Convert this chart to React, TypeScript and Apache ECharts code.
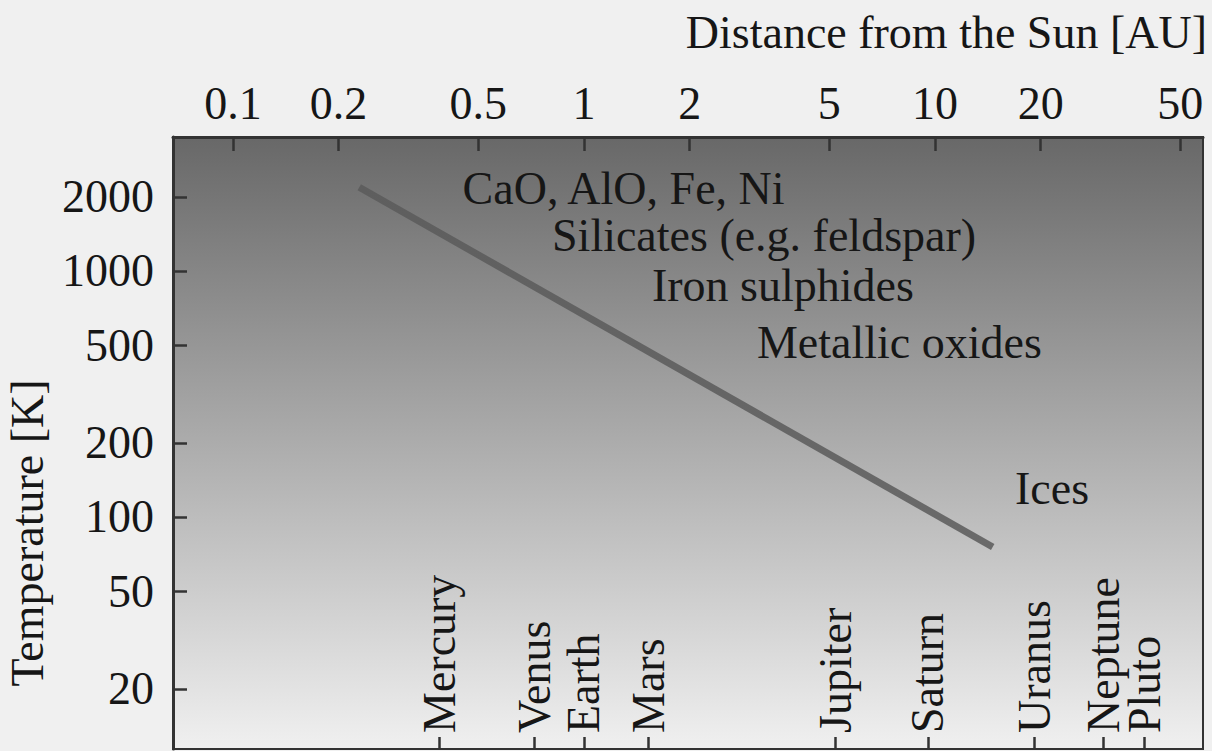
import React, { useEffect, useRef } from "react";
import * as echarts from "echarts";

// ---- data ----
const distanceTicks = [0.1, 0.2, 0.5, 1, 2, 5, 10, 20, 50];
const temperatureTicks = [20, 50, 100, 200, 500, 1000, 2000];
const planetNames = ["Mercury", "Venus", "Earth", "Mars", "Jupiter", "Saturn", "Uranus", "Neptune", "Pluto"];
const planetDistances = [0.387, 0.723, 1.0, 1.524, 5.2, 9.54, 19.2, 30.1, 39.5];
const condensationAU = [0.229, 14.6];
const condensationK = [2190, 75.5];
const regionLabels = ["CaO, AlO, Fe, Ni", "Silicates (e.g. feldspar)", "Iron sulphides", "Metallic oxides", "Ices"];
const regionAU = [0.451, 0.811, 1.562, 3.11, 16.9];
const regionK = [2155, 1388, 869, 510, 131];

const xMin = 0.0675;
const xMax = 58;
const yMin = 11.4;
const yMax = 3505;

const FONT = '"Liberation Serif", "Times New Roman", serif';
const FS = 46;
const TEXT = "#161616";
const AXIS = "#333333";

function planetFor(v: number): string {
  let best = 0;
  let bd = Infinity;
  planetDistances.forEach((d, i) => {
    const diff = Math.abs(Math.log(d) - Math.log(v));
    if (diff < bd) {
      bd = diff;
      best = i;
    }
  });
  return planetNames[best];
}

// planets split into two interleaved groups so neighbouring labels never collide on one axis
const planetsEven = planetDistances.filter((_, i) => i % 2 === 0);
const planetsOdd = planetDistances.filter((_, i) => i % 2 === 1);

function planetAxis(values: number[], showLine: boolean) {
  return {
    type: "log",
    position: "bottom",
    min: xMin,
    max: xMax,
    axisLine: { show: showLine, lineStyle: { color: AXIS, width: 2 } },
    axisTick: {
      show: true,
      inside: true,
      length: 12,
      customValues: values,
      lineStyle: { color: AXIS, width: 2.5 },
    },
    axisLabel: {
      inside: true,
      rotate: 90,
      customValues: values,
      showMinLabel: true,
      showMaxLabel: true,
      hideOverlap: false,
      formatter: (v: number) => planetFor(v),
      margin: 16,
      color: TEXT,
      fontFamily: FONT,
      fontSize: FS,
    },
    splitLine: { show: false },
  };
}

export default function App() {
  const ref = useRef<HTMLDivElement>(null);
  useEffect(() => {
    if (!ref.current) return;
    const chart = echarts.init(ref.current, undefined, { renderer: "svg" });
    const option: any = {
      animation: false,
      backgroundColor: "#f0f0f0",
      grid: {
        left: 173,
        top: 137,
        right: 9,
        bottom: 2,
        show: true,
        borderColor: AXIS,
        borderWidth: 2,
        backgroundColor: new echarts.graphic.LinearGradient(0, 0, 0, 1, [
          { offset: 0, color: "#686868" },
          { offset: 1, color: "#f0f0f0" },
        ]),
      },
      xAxis: [
        {
          type: "log",
          position: "top",
          min: xMin,
          max: xMax,
          axisLine: { show: true, lineStyle: { color: AXIS, width: 3 } },
          axisTick: {
            show: true,
            inside: true,
            length: 14,
            customValues: distanceTicks,
            lineStyle: { color: AXIS, width: 2.5 },
          },
          axisLabel: {
            customValues: distanceTicks,
            showMinLabel: true,
            showMaxLabel: true,
            formatter: (v: number) => String(+v.toPrecision(6)),
            margin: 11,
            color: TEXT,
            fontFamily: FONT,
            fontSize: FS,
          },
          splitLine: { show: false },
        },
        planetAxis(planetsEven, true),
        planetAxis(planetsOdd, false),
      ],
      yAxis: {
        type: "log",
        min: yMin,
        max: yMax,
        axisLine: { show: true, lineStyle: { color: AXIS, width: 3 } },
        axisTick: {
          show: true,
          inside: true,
          length: 14,
          customValues: temperatureTicks,
          lineStyle: { color: AXIS, width: 2.5 },
        },
        axisLabel: {
          customValues: temperatureTicks,
          showMinLabel: true,
          showMaxLabel: true,
          formatter: (v: number) => String(+v.toPrecision(6)),
          margin: 19,
          color: TEXT,
          fontFamily: FONT,
          fontSize: FS,
        },
        splitLine: { show: false },
      },
      series: [
        {
          type: "line",
          xAxisIndex: 0,
          yAxisIndex: 0,
          symbol: "none",
          data: condensationAU.map((x, i) => [x, condensationK[i]]),
          lineStyle: {
            width: 7,
            cap: "butt",
            color: new echarts.graphic.LinearGradient(0, 0, 1, 1, [
              { offset: 0, color: "#5e5e5e" },
              { offset: 1, color: "#6a6a6a" },
            ]),
          },
          z: 3,
        },
        {
          type: "scatter",
          xAxisIndex: 0,
          yAxisIndex: 0,
          symbolSize: 0,
          silent: true,
          itemStyle: { opacity: 1 },
          data: regionLabels.map((name, i) => ({ name, value: [regionAU[i], regionK[i]] })),
          label: {
            show: true,
            position: "right",
            distance: 0,
            formatter: "{b}",
            color: TEXT,
            opacity: 1,
            fontFamily: FONT,
            fontSize: FS,
          },
          z: 4,
        },
      ],
      graphic: [
        {
          type: "text",
          x: 1207,
          y: 32,
          style: {
            text: "Distance from the Sun [AU]",
            align: "right",
            verticalAlign: "middle",
            fill: TEXT,
            font: `${FS}px ${FONT}`,
          },
        },
        {
          type: "text",
          x: 27,
          y: 533,
          rotation: Math.PI / 2,
          style: {
            text: "Temperature [K]",
            align: "center",
            verticalAlign: "middle",
            fill: TEXT,
            font: `${FS}px ${FONT}`,
          },
        },
      ],
    };
    chart.setOption(option);
    return () => chart.dispose();
  }, []);
  return (
    <div
      ref={ref}
      style={{ position: "fixed", left: 0, top: 0, width: 1212, height: 751 }}
    />
  );
}
